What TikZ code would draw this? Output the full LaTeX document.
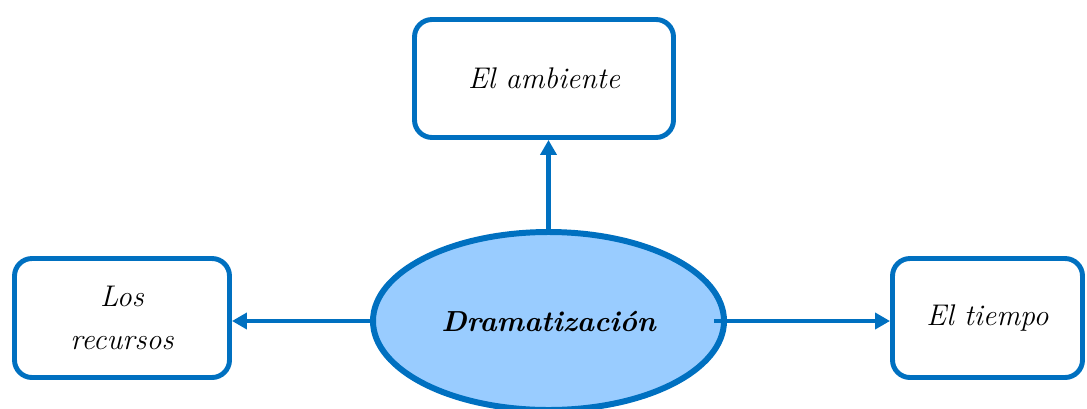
\documentclass[tikz,border=0pt]{standalone}
\usetikzlibrary{arrows.meta,shapes.geometric}
\definecolor{rahmen}{HTML}{0070C0}
\definecolor{fuellung}{HTML}{99CCFF}
\begin{document}
\begin{tikzpicture}[
    >={Triangle[length=0.3cm,width=0.32cm]},
    every node/.style={font=\fontsize{17}{24}\selectfont\itshape},
    kasten/.style={draw=rahmen, line width=2.8pt, rounded corners=0.35cm,
        fill=white, align=center},
    pfeil/.style={draw=rahmen, line width=2.3pt, ->}
]

% Rahmen des Bildes
\useasboundingbox (0,0) rectangle (21.74,8.16);

% ============================================================
% Knoten
% ============================================================

\node[
    ellipse,
    draw=rahmen,
    fill=fuellung,
    line width=3.4pt,
    inner sep=0pt,
    minimum width=7.02cm,
    minimum height=3.56cm,
    font=\fontsize{16.5}{24}\selectfont\bfseries\itshape
] (Drama) at (10.97,1.74) {Dramatización};

\node[kasten, minimum width=5.18cm, minimum height=2.36cm]
    (Ambiente) at (10.88,6.59) {El ambiente};

\node[kasten, minimum width=4.30cm, minimum height=2.38cm]
    (Recursos) at (2.44,1.80) {Los\\recursos};

\node[kasten, minimum width=3.80cm, minimum height=2.38cm]
    (Tiempo) at (19.75,1.80) {El tiempo};

% ============================================================
% Pfeile
% ============================================================

\draw[pfeil] (Drama.north) -- (Drama.north |- Ambiente.south);
\draw[pfeil] (Drama.west) -- (Drama.west -| Recursos.east);
\draw[pfeil] ([xshift=-0.25cm]Drama.east) -- (Drama.east -| Tiempo.west);

\end{tikzpicture}
\end{document}
